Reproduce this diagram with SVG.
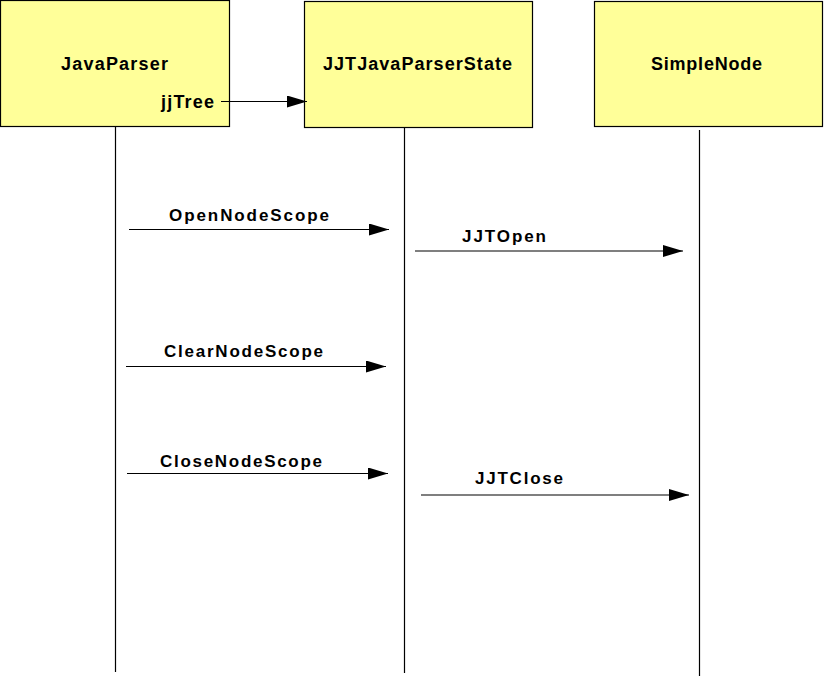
<svg xmlns="http://www.w3.org/2000/svg" width="824" height="676" viewBox="0 0 824 676">
<style>
.box{fill:#FFFF99;stroke:#000;stroke-width:1.2}
.life{stroke:#000;stroke-width:1.2;fill:none}
.msg{stroke:#000;stroke-width:1.2;fill:none;marker-end:url(#ah)}
.t{font-family:"Liberation Sans",Arial,sans-serif;font-weight:bold;fill:#000}
.h{font-size:18px}
.m{font-size:17px}
</style>
<defs>
<marker id="ah" markerUnits="userSpaceOnUse" markerWidth="22" markerHeight="14" refX="20" refY="6" orient="auto" viewBox="0 0 22 14">
<path d="M0,0 L20,6 L0,12 z" fill="#000"/>
</marker>
</defs>
<rect width="824" height="676" fill="#fff"/>
<g id="JavaParser">
<rect class="box" x="0.5" y="0.5" width="229" height="126"/>
<text class="t h" x="61" y="70" textLength="107" lengthAdjust="spacing">JavaParser</text>
<text class="t h" x="161" y="108" textLength="53" lengthAdjust="spacing">jjTree</text>
</g>
<g id="JJTJavaParserState">
<rect class="box" x="304.5" y="1.5" width="228" height="126"/>
<text class="t h" x="323" y="70" textLength="189" lengthAdjust="spacing">JJTJavaParserState</text>
</g>
<g id="SimpleNode">
<rect class="box" x="594.5" y="1.5" width="228" height="125"/>
<text class="t h" x="651" y="70" textLength="111" lengthAdjust="spacing">SimpleNode</text>
</g>
<g id="connectors">
<line class="life" x1="115.5" y1="127" x2="115.5" y2="672"/>
<line class="life" x1="404.5" y1="128" x2="404.5" y2="673"/>
<line class="life" x1="699.5" y1="130" x2="699.5" y2="676"/>
<line class="msg" x1="221" y1="101.5" x2="307" y2="101.5"/>
<line class="msg" x1="129" y1="229.5" x2="389" y2="229.5"/>
<line class="msg" x1="415" y1="251" x2="683" y2="251"/>
<line class="msg" x1="126" y1="366.5" x2="386" y2="366.5"/>
<line class="msg" x1="127" y1="473.5" x2="388" y2="473.5"/>
<line class="msg" x1="421" y1="495" x2="689" y2="495"/>
<text class="t m" x="169" y="221" textLength="160" lengthAdjust="spacing">OpenNodeScope</text>
<text class="t m" x="462" y="242" textLength="84" lengthAdjust="spacing">JJTOpen</text>
<text class="t m" x="164" y="357" textLength="159" lengthAdjust="spacing">ClearNodeScope</text>
<text class="t m" x="160" y="467" textLength="162" lengthAdjust="spacing">CloseNodeScope</text>
<text class="t m" x="475" y="484" textLength="88" lengthAdjust="spacing">JJTClose</text>
</g>
</svg>
